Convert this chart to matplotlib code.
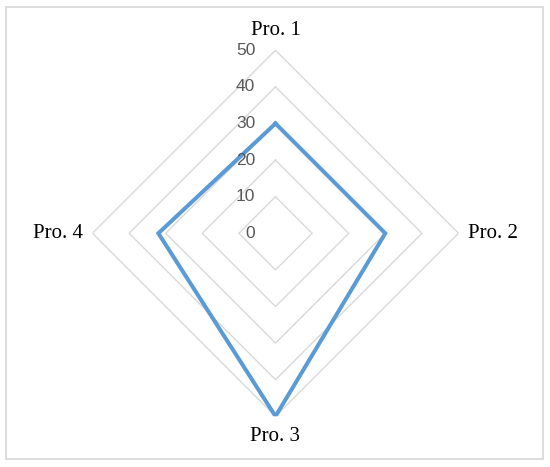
import numpy as np
import matplotlib
matplotlib.use("Agg")
import matplotlib.pyplot as plt
from matplotlib.patches import Rectangle

# data
categories = ["Pro. 1", "Pro. 2", "Pro. 3", "Pro. 4"]
values = [30, 30, 50, 32]
levels = [10, 20, 30, 40, 50]
tick_labels = ["0", "10", "20", "30", "40", "50"]

grid_col = "#d9d9d9"
line_col = "#5b9bd5"

fig = plt.figure(figsize=(5.5, 4.67), dpi=100)
fig.patch.set_facecolor("white")

# chart area border
fig.patches.append(Rectangle((6 / 550, 1 - 459.3 / 467), 537.3 / 550, 452.8 / 467,
                             transform=fig.transFigure, fill=False,
                             edgecolor=grid_col, linewidth=1.3))

cx, cy, R = 275.5, 467 - 233.3, 183.0
ax = fig.add_axes([(cx - R) / 550, (cy - R) / 467, 2 * R / 550, 2 * R / 467],
                  projection="polar")
ax.set_theta_zero_location("N")
ax.set_theta_direction(-1)
ax.set_ylim(0, 50)
ax.grid(False)
ax.spines["polar"].set_visible(False)
ax.set_xticks([])
ax.set_yticks([])
ax.patch.set_alpha(0)

n = len(categories)
theta = np.arange(n) * 2 * np.pi / n
theta_c = np.append(theta, theta[0])

# polygon grid
for lv in levels:
    ax.plot(theta_c, [lv] * (n + 1), color=grid_col, linewidth=1.0, zorder=1)

# series
vals_c = values + values[:1]
ax.plot(theta_c, vals_c, color=line_col, linewidth=2.9, zorder=3,
        solid_joinstyle="miter")

# radial value labels
for i, lab in enumerate(tick_labels):
    r = i * 10
    ax.annotate(lab, xy=(0, r), xytext=(-14.5, 0), textcoords="offset points",
                ha="right", va="center", fontsize=12.5, color="#595959",
                family="Liberation Sans", annotation_clip=False)

# category labels
offs = [(0, 14.5), (7, 0), (0, -14.5), (-7, 0)]
has = ["center", "left", "center", "right"]
for t, lab, off, ha in zip(theta, categories, offs, has):
    ax.annotate(lab, xy=(t, 50), xytext=off, textcoords="offset points",
                ha=ha, va="center", fontsize=15, color="black",
                family="Liberation Serif", annotation_clip=False)

fig.savefig("out.png", dpi=100)
